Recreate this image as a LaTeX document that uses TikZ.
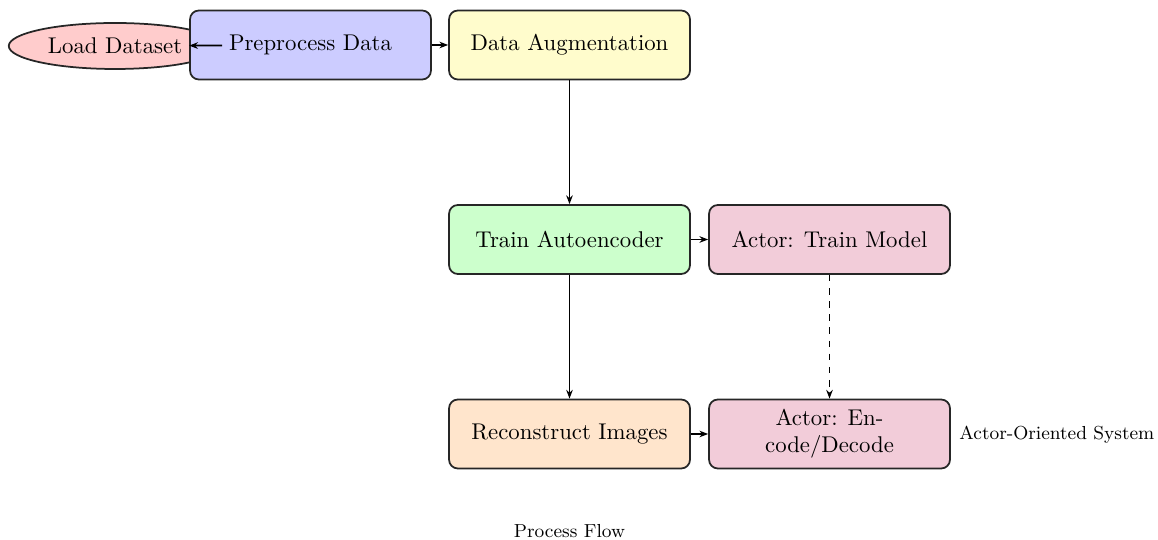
\documentclass[tikz,border=0pt]{standalone}
\usetikzlibrary{shapes.geometric,arrows.meta}
\begin{document}
\begin{tikzpicture}[x=0.4566pt,y=-0.4566pt,
  every node/.style={font=\fontsize{10.4}{12.2}\selectfont},
  box/.style={draw=black!85, thick, rounded corners=4pt, minimum width=110pt, minimum height=31.5pt, inner sep=2pt},
  oval/.style={ellipse, draw=black!85, thick, minimum width=97pt, minimum height=21pt, inner sep=1pt},
  arr/.style={-{Stealth[length=4pt,width=3pt]}, thick},
  darr/.style={arr, dashed},
  note/.style={font=\fontsize{8.6}{10}\selectfont}]
\useasboundingbox (0,0) rectangle (1158,540);
\node[oval, fill=red!20] (load) at (115,46) {Load Dataset};
\node[box, fill=blue!20] (pre) at (310.5,45) {Preprocess Data};
\node[box, fill=yellow!20] (aug) at (569.5,45) {Data Augmentation};
\node[box, fill=green!20] (train) at (569.5,239.5) {Train Autoencoder};
\node[box, fill=purple!20] (act1) at (829.5,239.5) {Actor: Train Model};
\node[box, fill=orange!20] (recon) at (569.5,434) {Reconstruct Images};
\node[box, fill=purple!20, align=center] (act2) at (829.5,434) {Actor: En-\\code/Decode};
\node[note, anchor=west, inner sep=0pt] (sys) at (959,435) {Actor-Oriented System};
\node[note] (title) at (569.5,531) {Process Flow};
\draw[arr] (load) -- (pre);
\draw[arr] (pre) -- (aug);
\draw[arr] (aug) -- (train);
\draw[arr] (train) -- (act1);
\draw[arr] (train) -- (recon);
\draw[darr] (act1) -- (act2);
\draw[arr] (recon) -- (act2);
\end{tikzpicture}
\end{document}
